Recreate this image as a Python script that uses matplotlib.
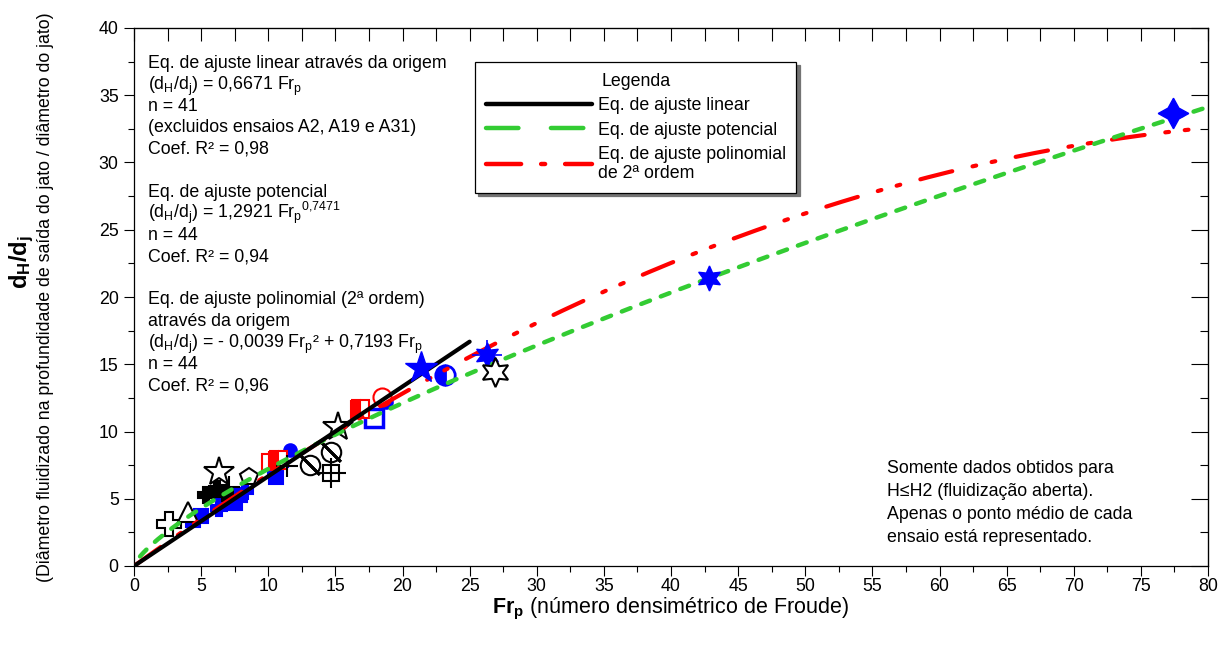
import numpy as np
import matplotlib
matplotlib.use('Agg')
import matplotlib.pyplot as plt
from matplotlib.lines import Line2D

plt.rcParams['font.family'] = ['Liberation Sans', 'DejaVu Sans']
plt.rcParams['mathtext.fontset'] = 'custom'
plt.rcParams['mathtext.rm'] = 'Liberation Sans'
plt.rcParams['mathtext.it'] = 'Liberation Sans:italic'
plt.rcParams['mathtext.bf'] = 'Liberation Sans:bold'

# fitted equations (coefficients printed on the chart)
lin_a = 0.6671
pot_a, pot_b = 1.2921, 0.7471
pol_a2, pol_a1 = -0.0039, 0.7193
lin_range = [0.0, 25.0]
pot_range = [0.45, 80.0]
pol_range = [0.0, 79.6]

# mean points of each test, grouped by symbol
blue_sq_x = [4.4, 5.0, 6.6, 7.5, 7.9, 10.6, 10.5]
blue_sq_y = [3.4, 3.7, 4.8, 4.7, 5.3, 6.6, 7.1]
blue_plus_x = [6.3, 8.3, 10.9]
blue_plus_y = [4.3, 5.6, 7.6]
blue_open_sq_x = [17.9]
blue_open_sq_y = [11.0]
blue_circ_x = [11.6, 18.8]
blue_circ_y = [8.6, 12.2]
blue_half_circ_x = [23.2]
blue_half_circ_y = [14.2]
blue_star5_x = [21.4]
blue_star5_y = [14.7]
blue_star6_x = [26.3, 42.8]
blue_star6_y = [15.7, 21.4]
blue_star4_x = [77.4]
blue_star4_y = [33.7]

red_open_sq_x = [10.1]
red_open_sq_y = [7.7]
red_half_sq_x = [10.7, 16.8]
red_half_sq_y = [7.9, 11.7]
red_open_circ_x = [18.5]
red_open_circ_y = [12.6]

blk_open_plus_x = [2.6]
blk_open_plus_y = [3.1]
blk_open_tri_x = [4.0]
blk_open_tri_y = [4.0]
blk_plus_x = [5.4, 6.2, 6.8]
blk_plus_y = [5.3, 5.7, 5.4]
blk_open_star_x = [6.3, 15.2]
blk_open_star_y = [7.0, 10.3]
blk_open_pent_x = [8.6]
blk_open_pent_y = [6.6]
blk_cross_x = [7.1, 11.4]
blk_cross_y = [5.9, 7.4]
blk_slash_circ_x = [13.1, 14.7]
blk_slash_circ_y = [7.5, 8.5]
blk_sq_plus_x = [14.7]
blk_sq_plus_y = [6.9]
blk_open_star6_x = [26.9]
blk_open_star6_y = [14.4]

x_ticks = np.arange(0, 81, 5)
y_ticks = np.arange(0, 41, 5)

W, H = 1219, 645
fs = 12.8
fig = plt.figure(figsize=(W / 100, H / 100), dpi=100)
ax = fig.add_axes([134 / W, (H - 566) / H, 1074 / W, 538 / H])

green = '#33cc33'
red = '#ff0000'
blue = '#0000ff'

# fit curves
xl = np.array(lin_range)
ax.plot(xl, lin_a * xl, color='black', lw=3.0, solid_capstyle='round', zorder=5)
xp = np.linspace(pot_range[0], pot_range[1], 300)
ax.plot(xp, pot_a * xp ** pot_b, color=green, lw=3.2, dashes=(2.1, 2.6),
        dash_capstyle='round', zorder=4)
xq = np.linspace(pol_range[0], pol_range[1], 300)
ax.plot(xq, pol_a2 * xq ** 2 + pol_a1 * xq, color=red, lw=3.0,
        dashes=(7.9, 5, 0.9, 3.8, 0.9, 5), dash_capstyle='round', zorder=3)

# markers
def pts(x, y, marker, face, edge, size, ew=1.5, **kw):
    ax.plot(x, y, linestyle='none', marker=marker, markerfacecolor=face,
            markeredgecolor=edge, markersize=size, markeredgewidth=ew,
            zorder=kw.pop('zorder', 2), **kw)

pts(blue_sq_x, blue_sq_y, 's', blue, blue, 10)
pts(blue_plus_x, blue_plus_y, 'P', blue, blue, 12)
pts(blue_open_sq_x, blue_open_sq_y, 's', 'white', blue, 13, ew=2.5)
pts(blue_circ_x, blue_circ_y, 'o', blue, blue, 9)
pts(blue_half_circ_x, blue_half_circ_y, 'o', blue, blue, 14, ew=2,
    fillstyle='left', markerfacecoloralt='white')
pts(blue_star5_x, blue_star5_y, '*', blue, blue, 24, ew=1, zorder=6)
pts(blue_star6_x, blue_star6_y, (6, 1, 0), blue, blue, 18, ew=1, zorder=6)
pts(blue_star4_x, blue_star4_y, (4, 1, 0), blue, blue, 22, ew=1, zorder=6)
ax.plot(blue_star6_x[:1], blue_star6_y[:1], linestyle='none', marker='+',
        markersize=22, markeredgecolor=blue, markeredgewidth=1.2, zorder=6)

pts(red_open_sq_x, red_open_sq_y, 's', 'white', red, 12)
pts(red_half_sq_x, red_half_sq_y, 's', red, red, 13,
    fillstyle='left', markerfacecoloralt='white')
pts(red_open_circ_x, red_open_circ_y, 'o', 'white', red, 13)

pts(blk_open_plus_x, blk_open_plus_y, 'P', 'white', 'black', 17)
pts(blk_open_tri_x, blk_open_tri_y, '^', 'white', 'black', 14)
pts(blk_plus_x, blk_plus_y, 'P', 'black', 'black', 12)
pts(blk_open_star_x, blk_open_star_y, '*', 'white', 'black', 22)
pts(blk_open_pent_x, blk_open_pent_y, 'p', 'white', 'black', 13)
pts(blk_cross_x, blk_cross_y, '+', 'black', 'black', 16)
pts(blk_slash_circ_x, blk_slash_circ_y, 'o', 'white', 'black', 14)
pts(blk_slash_circ_x, blk_slash_circ_y, (2, 2, 45), 'black', 'black', 19, ew=2)
pts(blk_sq_plus_x, blk_sq_plus_y, 's', 'white', 'black', 12)
pts(blk_sq_plus_x, blk_sq_plus_y, '+', 'black', 'black', 22)
pts(blk_open_star6_x, blk_open_star6_y, (6, 1, 0), 'white', 'black', 21, zorder=6)

# axes
ax.set_xlim(0, 80)
ax.set_ylim(0, 40)
ax.set_xticks(x_ticks)
ax.set_yticks(y_ticks)
ax.set_xticks(np.arange(2.5, 80, 5), minor=True)
ax.set_yticks(np.arange(2.5, 40, 5), minor=True)
ax.tick_params(which='major', direction='out', length=7, width=0.8, labelsize=fs)
ax.tick_params(which='minor', direction='out', length=4, width=0.8)
ax.tick_params(axis='y', pad=4)
ax.tick_params(axis='x', pad=1.5)
for s in ax.spines.values():
    s.set_linewidth(0.9)

top = ax.secondary_xaxis('top')
top.set_xticks(np.arange(0, 81, 2.5))
top.tick_params(direction='in', length=9, width=0.8, labeltop=False)
right = ax.secondary_yaxis('right')
right.set_yticks(y_ticks)
right.set_yticks(np.arange(2.5, 40, 5), minor=True)
right.tick_params(which='major', direction='in', length=12, width=0.8, labelright=False)
right.tick_params(which='minor', direction='in', length=6, width=0.8)

# axis titles
fig.text(22 / W, 1 - 262 / H, r'$\mathbf{d_H/d_j}$', rotation=90, fontsize=17,
         ha='center', va='center')
fig.text(46 / W, 1 - 297 / H,
         '(Diâmetro fluidizado na profundidade de saída do jato / diâmetro do jato)',
         rotation=90, fontsize=fs, ha='center', va='center')
fig.text(671 / W, 1 - 613 / H,
         r'$\mathbf{Fr_p}$ (número densimétrico de Froude)',
         fontsize=15.5, ha='center', va='baseline')

# equation notes
dH = r'(d$_\mathrm{H}$/d$_\mathrm{j}$)'
Fr = r'Fr$_\mathrm{p}$'
notes = [
    'Eq. de ajuste linear através da origem',
    dH + ' = 0,6671 ' + Fr,
    'n = 41',
    '(excluidos ensaios A2, A19 e A31)',
    'Coef. R² = 0,98',
    '',
    'Eq. de ajuste potencial',
    dH + ' = 1,2921 ' + Fr + r'$^\mathrm{0{,}7471}$',
    'n = 44',
    'Coef. R² = 0,94',
    '',
    'Eq. de ajuste polinomial (2ª ordem)',
    'através da origem',
    dH + ' = - 0,0039 ' + Fr + '² + 0,7193 ' + Fr,
    'n = 44',
    'Coef. R² = 0,96',
]
for i, t in enumerate(notes):
    if t:
        fig.text(148 / W, 1 - (68 + 21.5 * i) / H, t, fontsize=fs,
                 ha='left', va='baseline')

side = ['Somente dados obtidos para', 'H≤H2 (fluidização aberta).',
        'Apenas o ponto médio de cada', 'ensaio está representado.']
for i, t in enumerate(side):
    fig.text(887 / W, 1 - (473 + 23 * i) / H, t, fontsize=fs,
             ha='left', va='baseline')

# legend with its own dash patterns
handles = [
    Line2D([], [], color='black', lw=3.2, solid_capstyle='round'),
    Line2D([], [], color=green, lw=3.2, dashes=(7.3, 7.3), dash_capstyle='round'),
    Line2D([], [], color=red, lw=3.2, dashes=(7.9, 4.5, 0.9, 4.5),
           dash_capstyle='round'),
]
labels = ['Eq. de ajuste linear', 'Eq. de ajuste potencial',
          'Eq. de ajuste polinomial\nde 2ª ordem']
leg = ax.legend(handles, labels, title='Legenda', loc='upper left',
                bbox_to_anchor=(475 / W, 1 - 62 / H), bbox_transform=fig.transFigure,
                fontsize=fs, title_fontsize=fs, handlelength=6.0,
                handletextpad=0.3, labelspacing=0.42, borderpad=0.6,
                fancybox=False, shadow={'color': '0.45', 'alpha': 1, 'ox': 2.5, 'oy': -2.5},
                framealpha=1, edgecolor='black', borderaxespad=0)
leg.get_frame().set_linewidth(0.9)
for t in leg.get_texts():
    t.set_linespacing(1.15)

fig.savefig('out.png', dpi=100)
